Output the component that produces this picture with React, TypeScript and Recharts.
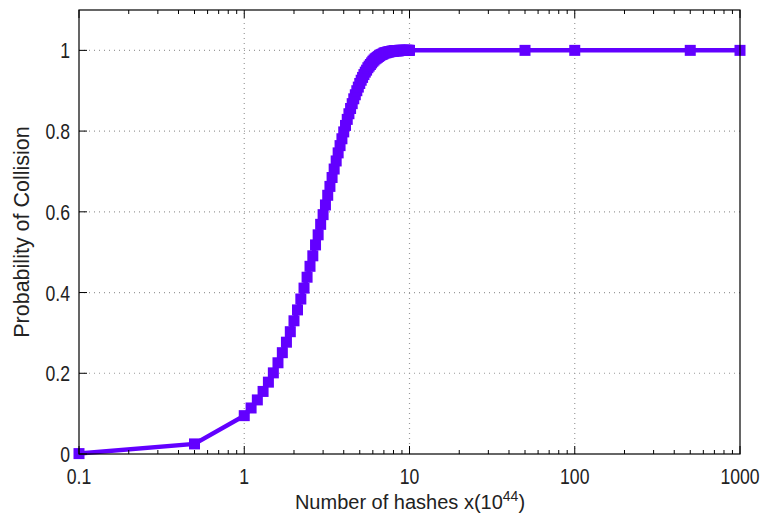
import { LineChart, Line, XAxis, YAxis, ReferenceLine } from 'recharts';

const hashes = [
    0.1, 0.5,
    1.0, 1.1, 1.2, 1.3, 1.4, 1.5, 1.6, 1.7, 1.8, 1.9,
    2.0, 2.1, 2.2, 2.3, 2.4, 2.5, 2.6, 2.7, 2.8, 2.9,
    3.0, 3.1, 3.2, 3.3, 3.4, 3.5, 3.6, 3.7, 3.8, 3.9,
    4.0, 4.1, 4.2, 4.3, 4.4, 4.5, 4.6, 4.7, 4.8, 4.9,
    5.0, 5.1, 5.2, 5.3, 5.4, 5.5, 5.6, 5.7, 5.8, 5.9,
    6.0, 6.1, 6.2, 6.3, 6.4, 6.5, 6.6, 6.7, 6.8, 6.9,
    7.0, 7.1, 7.2, 7.3, 7.4, 7.5, 7.6, 7.7, 7.8, 7.9,
    8.0, 8.1, 8.2, 8.3, 8.4, 8.5, 8.6, 8.7, 8.8, 8.9,
    9.0, 9.1, 9.2, 9.3, 9.4, 9.5, 9.6, 9.7, 9.8, 9.9,
    10.0, 50, 100, 500, 1000,
];

const probability = [
    0.001, 0.025,
    0.095, 0.114, 0.134, 0.155, 0.178, 0.201, 0.226, 0.251, 0.277, 0.303,
    0.330, 0.357, 0.384, 0.411, 0.438, 0.465, 0.491, 0.518, 0.543, 0.569,
    0.593, 0.617, 0.641, 0.663, 0.685, 0.706, 0.726, 0.746, 0.764, 0.781,
    0.798, 0.814, 0.829, 0.843, 0.856, 0.868, 0.880, 0.890, 0.900, 0.909,
    0.918, 0.926, 0.933, 0.940, 0.946, 0.951, 0.957, 0.961, 0.965, 0.969,
    0.973, 0.976, 0.979, 0.981, 0.983, 0.985, 0.987, 0.989, 0.990, 0.991,
    0.993, 0.994, 0.994, 0.995, 0.996, 0.996, 0.997, 0.997, 0.998, 0.998,
    0.998, 0.999, 0.999, 0.999, 0.999, 0.999, 0.999, 1.0, 1.0, 1.0,
    1.0, 1.0, 1.0, 1.0, 1.0, 1.0, 1.0, 1.0, 1.0, 1.0,
    1.0, 1.0, 1.0, 1.0, 1.0,
];

const xMajor = [0.1, 1, 10, 100, 1000];
const xMinor = [
    0.2, 0.3, 0.4, 0.5, 0.6, 0.7, 0.8, 0.9,
    2, 3, 4, 5, 6, 7, 8, 9,
    20, 30, 40, 50, 60, 70, 80, 90,
    200, 300, 400, 500, 600, 700, 800, 900,
];
const yTicks = [0, 0.2, 0.4, 0.6, 0.8, 1];
const xGrid = [1, 10, 100];
const yGrid = [0.2, 0.4, 0.6, 0.8, 1];

const data = hashes.map((x, i) => ({ x, p: probability[i] }));

const COLOR = '#6200ff';
const FONT = '"Liberation Sans", Arial, Helvetica, sans-serif';

// plot box edges in page pixels
const L = 79, R = 740, T = 10, B = 454;

const BottomTick = ({ x, payload }: any) => {
    const major = xMajor.includes(payload.value);
    return (
        <g>
            <line x1={x} x2={x} y1={B} y2={B - (major ? 8 : 4)} stroke="#000" strokeWidth={1} />
            {major && (
                <text transform={`translate(${x},${B + 30}) scale(0.8,1)`} textAnchor="middle"
                    fontSize={22} fontFamily={FONT} fill="#222">{payload.value}</text>
            )}
        </g>
    );
};

const TopTick = ({ x, payload }: any) => {
    const major = xMajor.includes(payload.value);
    return <line x1={x} x2={x} y1={T} y2={T + (major ? 8 : 4)} stroke="#000" strokeWidth={1} />;
};

const LeftTick = ({ y, payload }: any) => (
    <g>
        <line x1={L} x2={L + 8} y1={y} y2={y} stroke="#000" strokeWidth={1} />
        <text transform={`translate(${L - 9},${y + 8}) scale(0.8,1)`} textAnchor="end"
            fontSize={22} fontFamily={FONT} fill="#222">{payload.value}</text>
    </g>
);

const RightTick = ({ y }: any) => (
    <line x1={R} x2={R - 8} y1={y} y2={y} stroke="#000" strokeWidth={1} />
);

const SquareDot = (props: any) => {
    const { cx, cy, index } = props;
    return <rect key={`d${index}`} x={cx - 5.5} y={cy - 5.5} width={11} height={11} fill={COLOR} />;
};

export default function App() {
    return (
        <div style={{ position: 'absolute', left: 0, top: 0, background: '#fff' }}>
            <LineChart width={763} height={515} data={data}
                margin={{ top: T - 1, right: 763 - R - 1, bottom: 515 - B - 1, left: L - 1 }}>
                <XAxis xAxisId="b" dataKey="x" type="number" scale="log" domain={[0.1, 1000]}
                    ticks={[...xMajor, ...xMinor]} interval={0} height={1} tickSize={0} tickMargin={0}
                    tickLine={false} tick={<BottomTick />} axisLine={false} />
                <XAxis xAxisId="t" dataKey="x" type="number" scale="log" domain={[0.1, 1000]}
                    orientation="top" ticks={[...xMajor, ...xMinor]} interval={0} height={1}
                    tickSize={0} tickMargin={0} tickLine={false} tick={<TopTick />} axisLine={false} />
                <YAxis yAxisId="l" type="number" domain={[0, 1.1]} ticks={yTicks} interval={0}
                    width={1} tickSize={0} tickMargin={0} tickLine={false} tick={<LeftTick />} axisLine={false} />
                <YAxis yAxisId="r" orientation="right" type="number" domain={[0, 1.1]} ticks={yTicks}
                    interval={0} width={1} tickSize={0} tickMargin={0} tickLine={false}
                    tick={<RightTick />} axisLine={false} />
                {xGrid.map((v) => (
                    <ReferenceLine key={`gx${v}`} xAxisId="b" yAxisId="l" x={v} stroke="#9a9a9a"
                        strokeDasharray="1 4" strokeWidth={1.2} />
                ))}
                {yGrid.map((v) => (
                    <ReferenceLine key={`gy${v}`} xAxisId="b" yAxisId="l" y={v} stroke="#9a9a9a"
                        strokeDasharray="1 4" strokeWidth={1.2} />
                ))}
                <Line xAxisId="b" yAxisId="l" dataKey="p" type="linear" stroke={COLOR} strokeWidth={4.5}
                    dot={SquareDot} activeDot={false} isAnimationActive={false} />
            </LineChart>
            <svg width={763} height={515} style={{ position: 'absolute', left: 0, top: 0, pointerEvents: 'none' }}>
                <rect x={L} y={T} width={R - L} height={B - T} fill="none" stroke="#000" strokeWidth={1.2} />
                <text x={410} y={509} textAnchor="middle" fontSize={20} fontFamily={FONT} fill="#222">
                    Number of hashes x(10<tspan dy={-8} fontSize={14}>44</tspan><tspan dy={8}>)</tspan>
                </text>
                <text transform="translate(29,232) rotate(-90)" textAnchor="middle" fontSize={21.5}
                    fontFamily={FONT} fill="#222">Probability of Collision</text>
            </svg>
        </div>
    );
}
